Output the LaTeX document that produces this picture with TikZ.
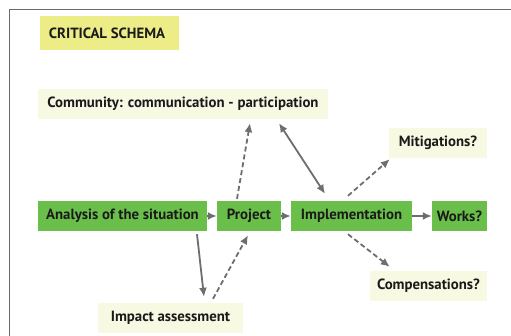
\documentclass[tikz,border=0pt]{standalone}
\usepackage{fontspec}
\setmainfont{PT Sans}
\usetikzlibrary{arrows.meta}
\definecolor{boxgreen}{HTML}{6ABF4B}
\definecolor{boxyellow}{HTML}{EDED87}
\definecolor{boxcream}{HTML}{F8F9E2}
\definecolor{arrgray}{HTML}{6E6E70}
\definecolor{framegray}{HTML}{6A6A6A}
\definecolor{txt}{HTML}{1A1A1A}
\begin{document}
\begin{tikzpicture}[x=1pt,y=-1pt,
  box/.style={inner sep=0pt, minimum height=30pt, text=txt, font=\bfseries\fontsize{14.8}{16}\selectfont},
  gbox/.style={box, fill=boxgreen},
  cbox/.style={box, fill=boxcream},
  arr/.style={draw=arrgray, line width=1.8pt, -{Latex[length=9pt,width=8pt]}},
  darr/.style={arr, dash pattern=on 5pt off 3pt},
  barr/.style={draw=arrgray, line width=1.8pt, {Latex[length=9pt,width=8pt]}-{Latex[length=9pt,width=8pt]}}
]
\useasboundingbox (0,0) rectangle (511,336);
\fill[white] (0,0) rectangle (511,336);
\draw[framegray, line width=1pt] (9,336) -- (9,10) -- (511,10);

\node[box, fill=boxyellow, minimum width=139pt, minimum height=34pt] (title) at (109.5,33) {\hspace*{-5pt}CRITICAL SCHEMA};
\node[cbox, minimum width=290pt] (community) at (183,104) {Community: communication - participation};
\node[cbox, minimum width=98pt] (mitig) at (438,143) {Mitigations?};
\node[gbox, minimum width=169pt] (analysis) at (122.5,216) {Analysis of the situation};
\node[gbox, minimum width=64pt] (project) at (249,216) {Project};
\node[gbox, minimum width=121pt] (impl) at (351.5,216) {Implementation};
\node[gbox, minimum width=55pt] (works) at (459.5,216) {Works?};
\node[cbox, minimum width=117pt] (comp) at (428.5,286) {Compensations?};
\node[cbox, minimum width=145pt] (impact) at (170.5,318) {Impact assessment};

\draw[arr] (analysis) -- (project);
\draw[arr] (project) -- (impl);
\draw[arr] (impl) -- (works);
\draw[darr] ([xshift=-12pt,yshift=2pt]project.north) -- ([xshift=67pt,yshift=-4pt]community.south);
\draw[barr] ([xshift=96pt,yshift=-4pt]community.south) -- ([xshift=-26.5pt,yshift=7pt]impl.north);
\draw[darr] ([xshift=-3.5pt,yshift=5pt]impl.north) -- ([xshift=1pt,yshift=-1pt]mitig.south west);
\draw[darr] ([xshift=-3.5pt,yshift=-3pt]impl.south) -- ([xshift=20pt,yshift=4pt]comp.north west);
\draw[arr] ([xshift=74.5pt,yshift=-3pt]analysis.south) -- ([xshift=33.5pt,yshift=6pt]impact.north);
\draw[darr] ([xshift=42.5pt,yshift=4pt]impact.north) -- ([xshift=-1pt,yshift=-4pt]project.south);
\end{tikzpicture}
\end{document}
